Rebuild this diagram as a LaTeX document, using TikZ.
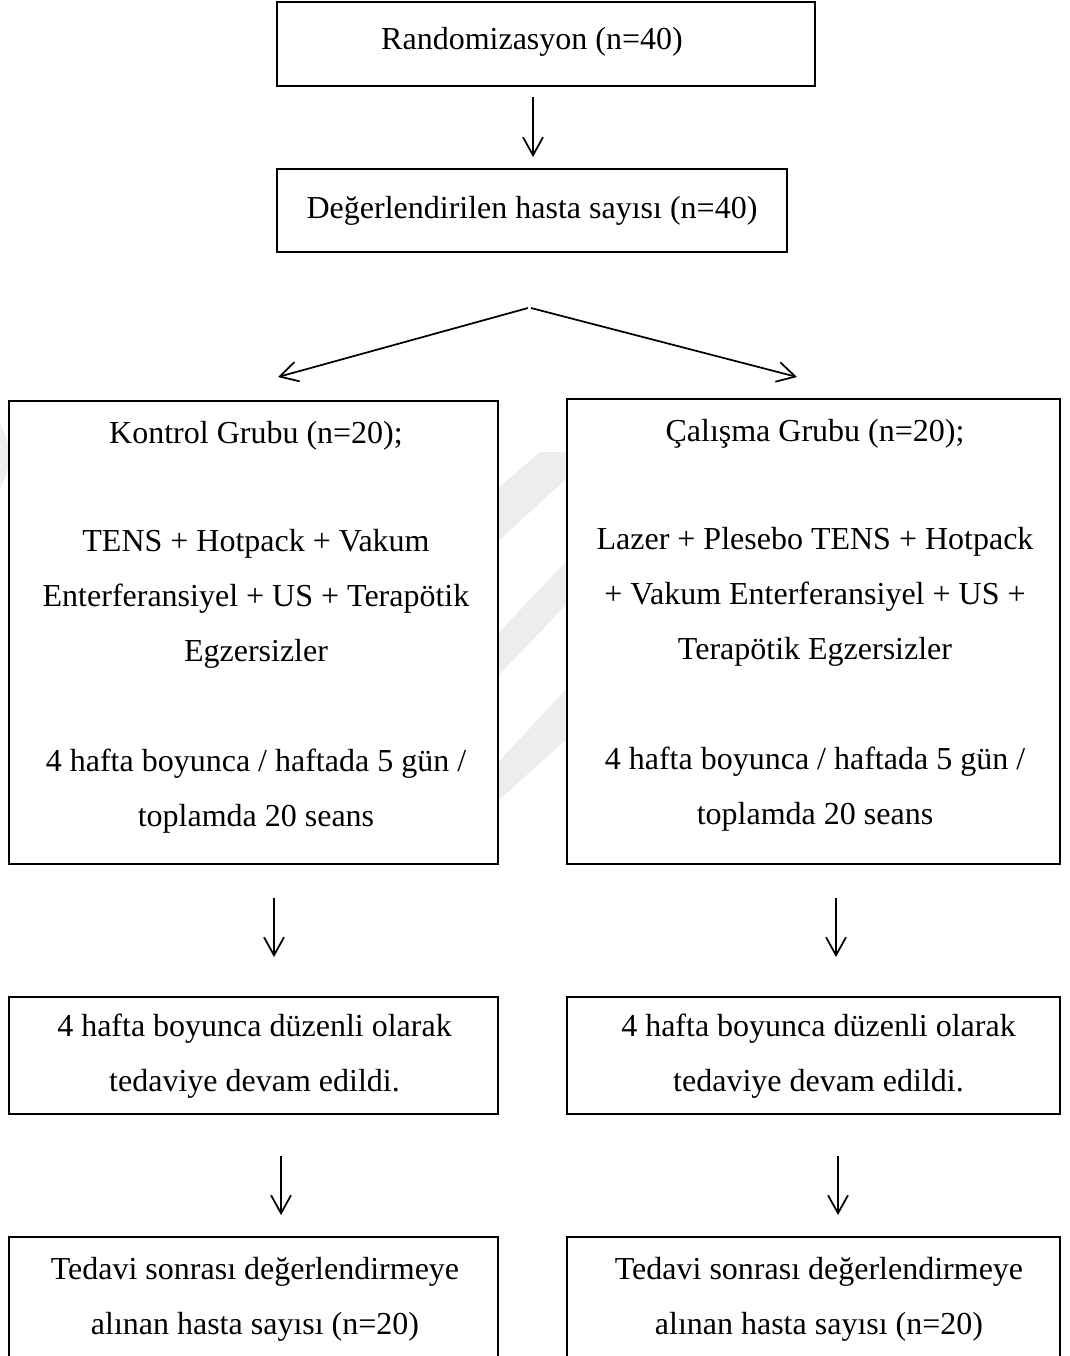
\documentclass[tikz,border=0pt]{standalone}
\usepackage{fontspec}
\setmainfont{Liberation Serif}
\usetikzlibrary{arrows.meta,calc}
\begin{document}
\begin{tikzpicture}[x=0.375pt,y=-0.375pt,
  fnt/.style={font=\fontsize{12}{20.625}\selectfont},
  box/.style={draw, line width=0.75pt, fill=white, rectangle, inner sep=0pt, align=center, fnt},
  txt/.style={inner sep=0pt, align=center, fnt},
  arr/.style={line width=0.65pt, -{Straight Barb[length=6.75pt,width=7.5pt]}},
  wm/.style={fill=black!7, draw=none}]
\useasboundingbox (0,0) rectangle (1070,1356);
\clip (0,0) rectangle (1070,1356);
% faint watermark behind the boxes
\fill[wm] (540,452) -- (590,452) -- (590,457) -- (470,567) -- (470,512) -- cycle;
\fill[wm] (590,536) -- (590,580) -- (470,705) -- (470,663) -- cycle;
\fill[wm] (590,663) -- (590,718) -- (470,826) -- (470,793) -- cycle;
\fill[wm] (-30,456) ellipse [x radius=39, y radius=50];
% boxes
\node[box, minimum width=201.75pt, minimum height=31.5pt] (b1) at (546,44) {};
\node[txt] (b1t) at ($(b1)+(-14,-2)$) {Randomizasyon (n=40)};
\node[box, minimum width=191.25pt, minimum height=31.125pt] (b2) at (532,210.5) {Değerlendirilen hasta sayısı (n=40)};
\node[box, minimum width=183.375pt, minimum height=173.625pt] (L1) at (253.5,632.5) {};
\node[box, minimum width=184.875pt, minimum height=174.375pt] (R1) at (813.5,631.5) {};
\node[txt] (L1t) at ($(L1)+(2.5,-5.5)$) {Kontrol Grubu (n=20);\\[19.875pt]TENS + Hotpack + Vakum\\Enterferansiyel + US + Terapötik\\Egzersizler\\[20.625pt]4 hafta boyunca / haftada 5 gün /\\toplamda 20 seans};
\node[txt] (R1t) at ($(R1)+(1.5,-6.5)$) {Çalışma Grubu (n=20);\\[19.875pt]Lazer + Plesebo TENS + Hotpack\\+ Vakum Enterferansiyel + US +\\Terapötik Egzersizler\\[20.625pt]4 hafta boyunca / haftada 5 gün /\\toplamda 20 seans};
\node[box, minimum width=183.375pt, minimum height=43.875pt] (L2) at (253.5,1055.5) {};
\node[txt] (L2t) at ($(L2)+(1,1)$) {4 hafta boyunca düzenli olarak\\tedaviye devam edildi.};
\node[box, minimum width=184.875pt, minimum height=43.875pt] (R2) at (813.5,1055.5) {};
\node[txt] (R2t) at ($(R2)+(5,1)$) {4 hafta boyunca düzenli olarak\\tedaviye devam edildi.};
\node[box, minimum width=183.375pt, minimum height=45.375pt] (L3) at (253.5,1297.5) {};
\node[txt] (L3t) at ($(L3)+(1.5,2)$) {Tedavi sonrası değerlendirmeye\\alınan hasta sayısı (n=20)};
\node[box, minimum width=184.875pt, minimum height=45.375pt] (R3) at (813.5,1297.5) {};
\node[txt] (R3t) at ($(R3)+(5.5,2)$) {Tedavi sonrası değerlendirmeye\\alınan hasta sayısı (n=20)};
% connectors
\draw[arr] ($(b2.north)+(1,-71)$) -- ($(b2.north)+(1,-11)$);
\draw[arr] ($(b2.south)+(-4,55)$) -- ($(L1.north)+(24.5,-23)$);
\draw[arr] ($(b2.south)+(-1,55)$) -- ($(R1.north)+(-16.5,-21)$);
\draw[arr] ($(L1.south)+(20.5,33)$) -- ($(L2.north)+(20.5,-39)$);
\draw[arr] ($(R1.south)+(22.5,33)$) -- ($(R2.north)+(22.5,-39)$);
\draw[arr] ($(L2.south)+(27.5,41)$) -- ($(L3.north)+(27.5,-21)$);
\draw[arr] ($(R2.south)+(24.5,41)$) -- ($(R3.north)+(24.5,-21)$);
\end{tikzpicture}
\end{document}
